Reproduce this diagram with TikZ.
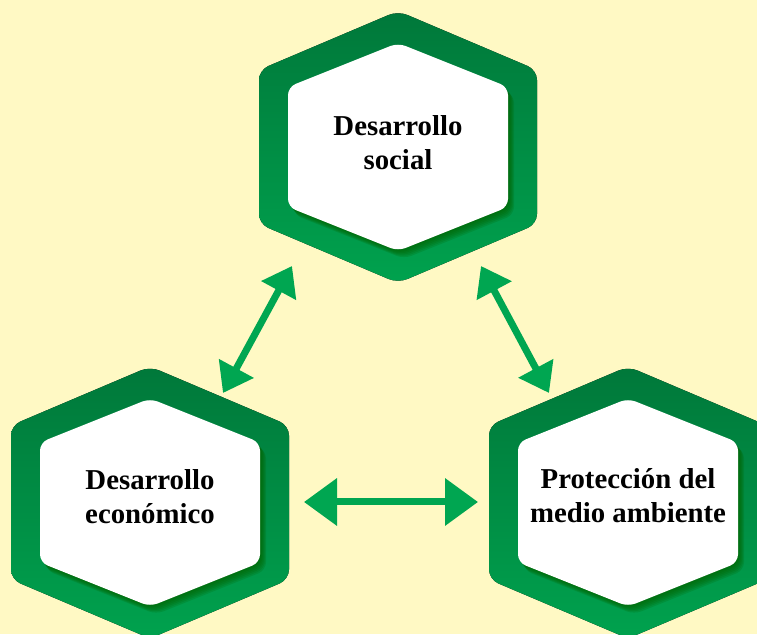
\documentclass[tikz,border=0pt]{standalone}
\usepackage{fontspec}
\setmainfont{Liberation Serif}
\usetikzlibrary{arrows.meta,calc}
\definecolor{bg}{RGB}{255,249,196}
\definecolor{hexdark}{RGB}{0,120,58}
\definecolor{hexlight}{RGB}{0,162,78}
\definecolor{shadowgreen}{RGB}{0,100,0}
\definecolor{arrowgreen}{RGB}{0,166,81}
\tikzset{
 lbl/.style={align=center, font=\fontsize{28.8}{34}\selectfont\bfseries, text=black, inner sep=0pt},
 outerhex/.style={top color=hexdark, bottom color=hexlight, rounded corners=10pt},
 innerhex/.style={fill=white, rounded corners=8pt},
 shadowhex/.style={fill=shadowgreen, fill opacity=0.2, rounded corners=8pt},
 diagarrow/.style={draw=arrowgreen, line width=7pt, {Triangle[width=38pt,length=28pt]}-{Triangle[width=38pt,length=28pt]}},
 horizarrow/.style={draw=arrowgreen, line width=7pt, {Triangle[width=46pt,length=33pt]}-{Triangle[width=46pt,length=33pt]}},
}
\newcommand\outerpath{(-139,0) -- (-139,77) -- (0,136) -- (139,77) -- (139,-77) -- (0,-136) -- (-139,-77) -- cycle}
\newcommand\innerpath{(-110,0) -- (-110,60) -- (0,104) -- (110,60) -- (110,-60) -- (0,-104) -- (-110,-60) -- cycle}
\newcommand\hexagonat[2]{%
 \begin{scope}[shift={(#1,#2)}]
  \fill[outerhex] \outerpath;
  \foreach \s in {1,...,6} {\fill[shadowhex, shift={(1.0*\s,-1.3*\s)}] \innerpath;}
  \fill[innerhex] \innerpath;
 \end{scope}}
\begin{document}
\begin{tikzpicture}[x=1pt,y=1pt]
\useasboundingbox (0,0) rectangle (757,634);
\clip (0,0) rectangle (757,634);
\fill[bg] (0,0) rectangle (757,634);
\hexagonat{398}{487}
\hexagonat{150}{131.5}
\hexagonat{628}{131.5}
\node[lbl, yshift=4pt] (top) at (398,487) {Desarrollo\\social};
\node[lbl, yshift=6pt] (bl) at (150,131.5) {Desarrollo\\económico};
\node[lbl, yshift=7pt] (br) at (628,131.5) {Protección del\\medio ambiente};
\draw[diagarrow] ([shift={(-106,-123)}]top.center) -- ([shift={(73,103.5)}]bl.center);
\draw[diagarrow] ([shift={(83,-123)}]top.center) -- ([shift={(-79,102.5)}]br.center);
\draw[horizarrow] ([shift={(154,-5.5)}]bl.center) -- ([shift={(-150,-6.5)}]br.center);
\end{tikzpicture}
\end{document}
